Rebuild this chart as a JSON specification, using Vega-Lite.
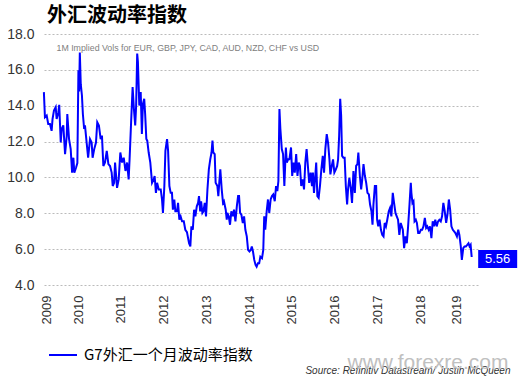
{
"$schema": "https://vega.github.io/schema/vega-lite/v6.json",
"width": 434, "height": 251,
"autosize": {"type": "none"},
"padding": {"left": 44, "top": 34, "right": 42, "bottom": 92},
"background": "white",
"title": {"text": "外汇波动率指数", "anchor": "start", "frame": "group", "font": "Noto Sans CJK SC", "fontSize": 20, "fontWeight": "bold", "color": "#000000", "offset": 1, "dx": 3},
"config": {"view": {"stroke": null}},
"layer": [
{
"data": {"values": [
{"date":"2009-03-14","value":14.76},{"date":"2009-03-23","value":13.36},{"date":"2009-04-07","value":13.45},{"date":"2009-04-20","value":12.98},{"date":"2009-05-05","value":12.98},{"date":"2009-05-19","value":12.6},{"date":"2009-05-27","value":13.26},{"date":"2009-06-08","value":13.73},{"date":"2009-06-23","value":13.92},{"date":"2009-07-01","value":13.26},{"date":"2009-07-15","value":13.6},{"date":"2009-07-23","value":14.05},{"date":"2009-08-05","value":11.95},{"date":"2009-08-13","value":12.7},{"date":"2009-08-27","value":12.9},{"date":"2009-09-11","value":11.3},{"date":"2009-09-25","value":12.3},{"date":"2009-09-30","value":13.54},{"date":"2009-10-15","value":12.14},{"date":"2009-10-29","value":11.58},{"date":"2009-11-10","value":10.27},{"date":"2009-11-21","value":11.1},{"date":"2009-11-29","value":10.27},{"date":"2009-12-14","value":10.55},{"date":"2009-12-25","value":10.8},
{"date":"2010-01-03","value":15.98},{"date":"2010-01-09","value":14.8},{"date":"2010-01-15","value":16.97},{"date":"2010-01-23","value":15.2},{"date":"2010-02-02","value":14.57},{"date":"2010-02-10","value":13.54},{"date":"2010-02-21","value":12.7},{"date":"2010-02-28","value":12.9},{"date":"2010-03-14","value":11.95},{"date":"2010-03-27","value":11.1},{"date":"2010-04-12","value":12.14},{"date":"2010-04-26","value":11.95},{"date":"2010-05-04","value":11.1},{"date":"2010-05-18","value":11.58},{"date":"2010-06-02","value":11.95},{"date":"2010-06-13","value":13.08},{"date":"2010-06-27","value":12.9},{"date":"2010-07-12","value":12.14},{"date":"2010-07-23","value":12.33},{"date":"2010-08-04","value":10.64},{"date":"2010-08-18","value":10.83},{"date":"2010-09-02","value":11.48},{"date":"2010-09-16","value":10.74},{"date":"2010-09-30","value":10.64},{"date":"2010-10-14","value":10.27},{"date":"2010-10-23","value":9.52},{"date":"2010-11-04","value":9.7},{"date":"2010-11-12","value":10.83},{"date":"2010-11-29","value":9.42},{"date":"2010-12-13","value":9.89},{"date":"2010-12-27","value":11.39},
{"date":"2011-01-11","value":10.83},{"date":"2011-01-25","value":11.1},{"date":"2011-02-09","value":10.36},{"date":"2011-02-23","value":10.83},{"date":"2011-03-08","value":9.89},{"date":"2011-03-16","value":11.01},{"date":"2011-03-29","value":13.08},{"date":"2011-04-11","value":15.04},{"date":"2011-04-22","value":13.82},{"date":"2011-05-03","value":12.9},{"date":"2011-05-11","value":14.0},{"date":"2011-05-20","value":16.91},{"date":"2011-05-26","value":16.45},{"date":"2011-06-07","value":14.01},{"date":"2011-06-19","value":14.76},{"date":"2011-06-29","value":12.42},{"date":"2011-07-08","value":14.1},{"date":"2011-07-19","value":14.39},{"date":"2011-07-27","value":13.54},{"date":"2011-08-06","value":12.14},{"date":"2011-08-14","value":12.05},{"date":"2011-08-26","value":11.39},{"date":"2011-09-09","value":10.83},{"date":"2011-09-24","value":9.7},{"date":"2011-10-08","value":9.89},{"date":"2011-10-16","value":10.08},{"date":"2011-10-27","value":9.14},{"date":"2011-11-06","value":9.7},{"date":"2011-11-20","value":9.33},{"date":"2011-12-07","value":9.33},{"date":"2011-12-18","value":8.77},{"date":"2011-12-26","value":8.02},
{"date":"2012-01-07","value":9.52},{"date":"2012-01-16","value":11.48},{"date":"2012-01-30","value":12.14},{"date":"2012-02-08","value":11.48},{"date":"2012-02-19","value":9.52},{"date":"2012-03-01","value":9.14},{"date":"2012-03-12","value":9.14},{"date":"2012-03-20","value":8.2},{"date":"2012-04-01","value":8.77},{"date":"2012-04-10","value":8.11},{"date":"2012-04-24","value":8.11},{"date":"2012-05-03","value":8.58},{"date":"2012-05-14","value":7.64},{"date":"2012-05-25","value":7.83},{"date":"2012-06-06","value":7.55},{"date":"2012-06-21","value":7.55},{"date":"2012-07-04","value":7.08},{"date":"2012-07-18","value":6.95},{"date":"2012-08-05","value":6.33},{"date":"2012-08-16","value":6.15},{"date":"2012-08-25","value":7.27},{"date":"2012-09-06","value":7.08},{"date":"2012-09-17","value":8.2},{"date":"2012-09-28","value":7.83},{"date":"2012-10-10","value":8.39},{"date":"2012-10-21","value":8.58},{"date":"2012-10-29","value":8.96},{"date":"2012-11-08","value":8.11},{"date":"2012-11-16","value":8.67},{"date":"2012-11-27","value":8.02},{"date":"2012-12-06","value":8.11},{"date":"2012-12-17","value":8.58},{"date":"2012-12-28","value":7.83},
{"date":"2013-01-09","value":9.33},{"date":"2013-01-21","value":10.45},{"date":"2013-02-02","value":11.01},{"date":"2013-02-13","value":11.39},{"date":"2013-02-21","value":12.05},{"date":"2013-02-28","value":11.39},{"date":"2013-03-12","value":11.3},{"date":"2013-03-20","value":9.7},{"date":"2013-04-04","value":9.52},{"date":"2013-04-12","value":8.96},{"date":"2013-04-20","value":9.7},{"date":"2013-04-29","value":10.45},{"date":"2013-05-11","value":9.33},{"date":"2013-05-22","value":8.58},{"date":"2013-05-30","value":8.67},{"date":"2013-06-14","value":8.2},{"date":"2013-06-23","value":7.64},{"date":"2013-06-28","value":8.02},{"date":"2013-07-10","value":7.83},{"date":"2013-07-21","value":7.36},{"date":"2013-08-01","value":8.11},{"date":"2013-08-13","value":7.83},{"date":"2013-08-24","value":8.2},{"date":"2013-09-05","value":7.55},{"date":"2013-09-17","value":8.39},{"date":"2013-09-28","value":8.96},{"date":"2013-10-06","value":8.96},{"date":"2013-10-15","value":8.02},{"date":"2013-10-26","value":7.92},{"date":"2013-11-07","value":7.46},{"date":"2013-11-18","value":7.83},{"date":"2013-11-29","value":7.08},{"date":"2013-12-11","value":6.71},{"date":"2013-12-22","value":5.96},
{"date":"2014-01-03","value":5.87},{"date":"2014-01-15","value":5.96},{"date":"2014-01-23","value":6.15},{"date":"2014-02-02","value":5.87},{"date":"2014-02-13","value":5.4},{"date":"2014-02-24","value":5.12},{"date":"2014-03-05","value":5.02},{"date":"2014-03-16","value":5.21},{"date":"2014-03-27","value":5.21},{"date":"2014-04-06","value":5.58},{"date":"2014-04-20","value":5.49},{"date":"2014-05-01","value":5.96},{"date":"2014-05-09","value":7.83},{"date":"2014-05-18","value":7.08},{"date":"2014-05-30","value":8.11},{"date":"2014-06-10","value":8.77},{"date":"2014-06-21","value":8.02},{"date":"2014-07-03","value":8.77},{"date":"2014-07-14","value":8.96},{"date":"2014-07-25","value":9.05},{"date":"2014-08-07","value":8.67},{"date":"2014-08-18","value":9.52},{"date":"2014-08-29","value":9.24},{"date":"2014-09-07","value":9.8},{"date":"2014-09-16","value":13.82},{"date":"2014-09-24","value":12.7},{"date":"2014-10-06","value":11.58},{"date":"2014-10-17","value":11.3},{"date":"2014-10-28","value":9.52},{"date":"2014-11-10","value":11.67},{"date":"2014-11-18","value":10.83},{"date":"2014-11-29","value":11.01},{"date":"2014-12-10","value":11.01},{"date":"2014-12-24","value":11.67},
{"date":"2015-01-03","value":10.08},{"date":"2015-01-14","value":10.83},{"date":"2015-01-25","value":10.27},{"date":"2015-02-06","value":11.3},{"date":"2015-02-17","value":10.08},{"date":"2015-02-28","value":10.83},{"date":"2015-03-10","value":10.64},{"date":"2015-03-21","value":9.52},{"date":"2015-04-03","value":9.89},{"date":"2015-04-14","value":9.33},{"date":"2015-04-25","value":10.83},{"date":"2015-05-06","value":11.58},{"date":"2015-05-17","value":10.64},{"date":"2015-05-28","value":9.7},{"date":"2015-06-10","value":10.27},{"date":"2015-06-21","value":9.52},{"date":"2015-06-29","value":10.27},{"date":"2015-07-08","value":9.14},{"date":"2015-07-19","value":10.08},{"date":"2015-07-27","value":10.83},{"date":"2015-08-06","value":8.96},{"date":"2015-08-17","value":8.86},{"date":"2015-08-28","value":9.52},{"date":"2015-09-09","value":10.45},{"date":"2015-09-21","value":11.2},{"date":"2015-10-02","value":10.27},{"date":"2015-10-13","value":11.58},{"date":"2015-10-25","value":12.42},{"date":"2015-11-06","value":11.9},{"date":"2015-11-17","value":11.01},{"date":"2015-11-25","value":10.17},{"date":"2015-12-07","value":10.64},{"date":"2015-12-18","value":11.01},{"date":"2015-12-29","value":10.27},
{"date":"2016-01-11","value":10.45},{"date":"2016-01-22","value":10.64},{"date":"2016-01-30","value":11.01},{"date":"2016-02-08","value":12.33},{"date":"2016-02-17","value":14.39},{"date":"2016-02-25","value":13.45},{"date":"2016-03-04","value":11.2},{"date":"2016-03-15","value":11.1},{"date":"2016-03-26","value":11.1},{"date":"2016-04-05","value":9.52},{"date":"2016-04-16","value":8.49},{"date":"2016-04-24","value":9.33},{"date":"2016-05-05","value":9.98},{"date":"2016-05-17","value":9.42},{"date":"2016-05-28","value":8.58},{"date":"2016-06-09","value":10.36},{"date":"2016-06-21","value":9.14},{"date":"2016-07-02","value":10.64},{"date":"2016-07-13","value":10.74},{"date":"2016-07-21","value":11.39},{"date":"2016-08-03","value":10.08},{"date":"2016-08-14","value":9.33},{"date":"2016-08-22","value":9.8},{"date":"2016-09-03","value":10.74},{"date":"2016-09-15","value":10.08},{"date":"2016-09-26","value":9.7},{"date":"2016-10-07","value":9.14},{"date":"2016-10-19","value":9.05},{"date":"2016-10-29","value":8.49},{"date":"2016-11-10","value":8.11},{"date":"2016-11-19","value":7.36},{"date":"2016-11-27","value":8.49},{"date":"2016-12-09","value":9.52},{"date":"2016-12-20","value":9.52},{"date":"2016-12-28","value":7.64},
{"date":"2017-01-07","value":7.27},{"date":"2017-01-18","value":7.64},{"date":"2017-01-30","value":7.08},{"date":"2017-02-10","value":6.8},{"date":"2017-02-21","value":6.71},{"date":"2017-03-03","value":7.46},{"date":"2017-03-14","value":7.27},{"date":"2017-03-25","value":7.64},{"date":"2017-04-07","value":8.11},{"date":"2017-04-18","value":8.3},{"date":"2017-04-29","value":7.83},{"date":"2017-05-11","value":9.14},{"date":"2017-05-22","value":8.58},{"date":"2017-06-03","value":8.02},{"date":"2017-06-14","value":7.83},{"date":"2017-06-25","value":7.64},{"date":"2017-07-06","value":6.8},{"date":"2017-07-18","value":7.46},{"date":"2017-08-05","value":7.08},{"date":"2017-08-16","value":6.05},{"date":"2017-08-27","value":6.71},{"date":"2017-09-08","value":6.33},{"date":"2017-09-19","value":7.27},{"date":"2017-09-30","value":8.39},{"date":"2017-10-12","value":9.7},{"date":"2017-10-17","value":9.14},{"date":"2017-10-26","value":8.58},{"date":"2017-11-04","value":8.67},{"date":"2017-11-13","value":7.55},{"date":"2017-11-24","value":7.64},{"date":"2017-12-03","value":7.46},{"date":"2017-12-14","value":6.9},{"date":"2017-12-25","value":6.9},
{"date":"2018-01-06","value":7.08},{"date":"2018-01-17","value":7.08},{"date":"2018-01-28","value":7.27},{"date":"2018-02-09","value":7.74},{"date":"2018-02-20","value":7.18},{"date":"2018-03-02","value":7.27},{"date":"2018-03-14","value":7.08},{"date":"2018-03-25","value":7.27},{"date":"2018-04-06","value":6.61},{"date":"2018-04-17","value":7.55},{"date":"2018-04-28","value":7.27},{"date":"2018-05-09","value":7.64},{"date":"2018-05-21","value":7.27},{"date":"2018-06-02","value":7.55},{"date":"2018-06-13","value":7.64},{"date":"2018-06-25","value":7.55},{"date":"2018-07-06","value":7.83},{"date":"2018-07-17","value":8.58},{"date":"2018-07-29","value":8.11},{"date":"2018-08-10","value":7.46},{"date":"2018-08-21","value":7.92},{"date":"2018-09-02","value":8.77},{"date":"2018-09-13","value":8.2},{"date":"2018-09-24","value":7.27},{"date":"2018-10-06","value":7.08},{"date":"2018-10-17","value":6.99},{"date":"2018-10-28","value":6.9},{"date":"2018-11-10","value":6.71},{"date":"2018-11-21","value":7.08},{"date":"2018-12-01","value":6.8},{"date":"2018-12-13","value":6.15},{"date":"2018-12-22","value":5.4},
{"date":"2019-01-03","value":6.05},{"date":"2019-01-14","value":6.15},{"date":"2019-01-25","value":6.15},{"date":"2019-02-06","value":6.24},{"date":"2019-02-17","value":6.33},{"date":"2019-02-26","value":6.15},{"date":"2019-03-07","value":6.24},{"date":"2019-03-16","value":5.56}
]},
"mark": {"type": "line", "strokeWidth": 2},
"encoding": {
"x": {"field": "date", "type": "temporal",
 "scale": {"type": "utc", "domain": [1237075200000, 1557360000000]},
 "axis": {"orient": "bottom", "values": [1239235200000, 1262304000000, 1293840000000, 1325376000000, 1356998400000, 1388534400000, 1420070400000, 1451606400000, 1483228800000, 1514764800000, 1541808000000],
  "labelExpr": "utcFormat(time(datum.value) + 5184000000, '%Y')", "labelAngle": -90, "domain": false, "ticks": false, "grid": false, "labelPadding": 10, "labelFontSize": 13, "labelColor": "#333333", "labelFont": "Liberation Sans", "labelOverlap": false,
  "title": "Source: Refinitiv Datastream/ Justin McQueen", "titleX": 466, "titleY": 85, "titleAlign": "right", "titleBaseline": "middle", "titleAngle": 0, "titleFont": "Liberation Sans", "titleFontStyle": "italic", "titleFontSize": 10, "titleFontWeight": "normal", "titleColor": "#333333"}},
"y": {"field": "value", "type": "quantitative", "scale": {"domain": [4, 18]},
 "axis": {"values": [4,6,8,10,12,14,16,18], "format": ".1f", "domain": false, "ticks": false, "labelPadding": 10, "labelFontSize": 14, "labelColor": "#333333", "labelFont": "Liberation Sans", "gridColor": "#bbbbbb", "gridDash": [2,2], "gridWidth": 1,
  "title": "1M Implied Vols for EUR, GBP, JPY, CAD, AUD, NZD, CHF vs USD", "titleAngle": 0, "titleX": 12, "titleY": 13, "titleAlign": "left", "titleBaseline": "middle", "titleFont": "Liberation Sans", "titleFontSize": 8.8, "titleFontWeight": "normal", "titleColor": "#808080"}},
"color": {"datum": "G7外汇一个月波动率指数", "scale": {"range": ["#0000ff"]},
 "legend": {"orient": "none", "legendX": 4, "legendY": 306, "title": null, "symbolType": "stroke", "symbolSize": 784, "symbolStrokeWidth": 2, "labelFontSize": 15, "labelFont": "Noto Sans CJK SC", "labelColor": "#000000", "labelOffset": 6, "labelLimit": 400, "padding": 0}}
}
},
{
"data": {"values": [{"date": "2019-03-16", "value": 5.56}]},
"mark": {"type": "point", "shape": "M-1,-0.46H1V0.46H-1Z", "size": 1521, "filled": true, "color": "#0000ff", "opacity": 1, "strokeWidth": 0, "xOffset": 26, "yOffset": 2},
"encoding": {
"x": {"field": "date", "type": "temporal"},
"y": {"field": "value", "type": "quantitative",
 "axis": {"orient": "right", "domain": false, "ticks": false, "labels": false, "grid": false,
  "title": "www.forexre.com", "titleAngle": 0, "titleX": -131, "titleY": 328, "titleAlign": "left", "titleBaseline": "middle", "titleFont": "Liberation Sans", "titleFontSize": 21, "titleFontWeight": "normal", "titleColor": "#c0c0c0"}}
}
},
{
"data": {"values": [{"date": "2019-03-16", "value": 5.56}]},
"mark": {"type": "text", "color": "#ffffff", "font": "Liberation Sans", "fontSize": 13, "align": "center", "baseline": "middle", "dx": 26, "dy": 2},
"encoding": {
"x": {"field": "date", "type": "temporal"},
"y": {"field": "value", "type": "quantitative", "axis": null},
"text": {"field": "value", "type": "quantitative", "format": ".2f"}
}
}
],
"resolve": {"axis": {"y": "independent"}}
}
